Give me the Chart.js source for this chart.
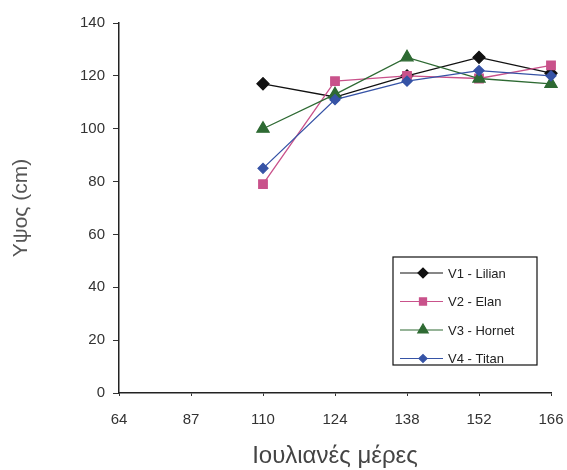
<!DOCTYPE html>
<html>
<head>
<meta charset="utf-8">
<script src="https://cdn.jsdelivr.net/npm/chart.js@4"></script>
<style>
  html, body { margin: 0; padding: 0; background: #fff; }
  #wrap { width: 567px; height: 470px; }
</style>
</head>
<body>
<div id="wrap"><canvas id="heightChart" width="567" height="470"></canvas></div>
<script>
// julian days on the x axis (evenly spaced, as in the original)
var days = ["64", "87", "110", "124", "138", "152", "166"];
var seriesNames = ["V1 - Lilian", "V2 - Elan", "V3 - Hornet", "V4 - Titan"];
// plant height (cm), no measurements for days 64 and 87
var lilian = [null, null, 117, 112, 120, 127, 121];
var elan   = [null, null, 79, 118, 120, 119, 124];
var hornet = [null, null, 100, 113, 127, 119, 117];
var titan  = [null, null, 85, 111, 118, 122, 120];
var yTicks = [0, 20, 40, 60, 80, 100, 120, 140];

var fontName = "'Liberation Sans', Arial, sans-serif";

// legend box drawn inside the plot, lower right
var boxLegend = {
    id: "boxLegend",
    afterDraw: function (chart) {
        var ctx = chart.ctx;
        var x0 = 393, y0 = 257, w = 144, h = 108;
        ctx.save();
        ctx.fillStyle = "#fff";
        ctx.fillRect(x0, y0, w, h);
        ctx.strokeStyle = "#111";
        ctx.lineWidth = 1.2;
        ctx.strokeRect(x0, y0, w, h);
        ctx.font = "13px " + fontName;
        ctx.textBaseline = "middle";
        chart.data.datasets.forEach(function (ds, i) {
            var y = y0 + 16 + i * 28.5;
            ctx.strokeStyle = ds.borderColor;
            ctx.lineWidth = 1.2;
            ctx.beginPath();
            ctx.moveTo(x0 + 7, y);
            ctx.lineTo(x0 + 50, y);
            ctx.stroke();
            ctx.fillStyle = ds.pointBackgroundColor;
            Chart.helpers.drawPoint(ctx, {
                pointStyle: ds.pointStyle,
                radius: ds.pointRadius - 1,
                rotation: 0,
                borderWidth: 1
            }, x0 + 30, y);
            ctx.fillStyle = "#222";
            ctx.fillText(ds.label, x0 + 55, y + 1);
        });
        ctx.restore();
    }
};

function makeSet(label, values, color, style, radius, order) {
    return {
        label: label,
        data: values,
        order: order,
        borderColor: color,
        backgroundColor: color,
        borderWidth: 1.3,
        pointStyle: style,
        pointRadius: radius,
        pointHoverRadius: radius,
        pointBorderColor: color,
        pointBackgroundColor: color,
        tension: 0
    };
}

var ctx = document.getElementById("heightChart").getContext("2d");
new Chart(ctx, {
    type: "line",
    data: {
        labels: days,
        datasets: [
            makeSet(seriesNames[0], lilian, "#111111", "rectRot", 6, 4),
            makeSet(seriesNames[1], elan, "#c9528b", "rect", 6, 3),
            makeSet(seriesNames[2], hornet, "#2e6a33", "triangle", 7, 2),
            makeSet(seriesNames[3], titan, "#3653a6", "rectRot", 5, 1)
        ]
    },
    options: {
        responsive: false,
        animation: false,
        layout: { padding: { left: 0, top: 23, right: 16, bottom: 0 } },
        plugins: {
            legend: { display: false },
            tooltip: { enabled: false }
        },
        scales: {
            x: {
                type: "category",
                offset: false,
                grid: { display: true, drawOnChartArea: false, drawTicks: true, tickLength: 3, color: "#333" },
                border: { color: "#222", width: 1.5 },
                ticks: { color: "#333", font: { family: fontName, size: 15 }, padding: 15, maxRotation: 0 },
                title: {
                    display: true,
                    text: "Ιουλιανές μέρες",
                    color: "#444",
                    font: { family: fontName, size: 24 },
                    padding: { top: 0, bottom: -1 }
                },
                afterFit: function (scale) {
                    scale.height = 77;
                    scale.paddingLeft = 0;
                    scale.paddingRight = 0;
                }
            },
            y: {
                min: 0,
                max: 140,
                afterBuildTicks: function (scale) {
                    scale.ticks = yTicks.map(function (v) { return { value: v }; });
                },
                grid: { display: true, drawOnChartArea: false, drawTicks: true, tickLength: 6, color: "#333" },
                border: { color: "#222", width: 1.5 },
                ticks: { color: "#333", font: { family: fontName, size: 15 }, padding: 8 },
                title: {
                    display: true,
                    text: "Υψος (cm)",
                    color: "#555",
                    font: { family: fontName, size: 21 },
                    padding: { top: 9, bottom: 0 }
                },
                afterFit: function (scale) {
                    scale.width = 119;
                    scale.paddingTop = 0;
                    scale.paddingBottom = 0;
                }
            }
        }
    },
    plugins: [boxLegend]
});
</script>
</body>
</html>
